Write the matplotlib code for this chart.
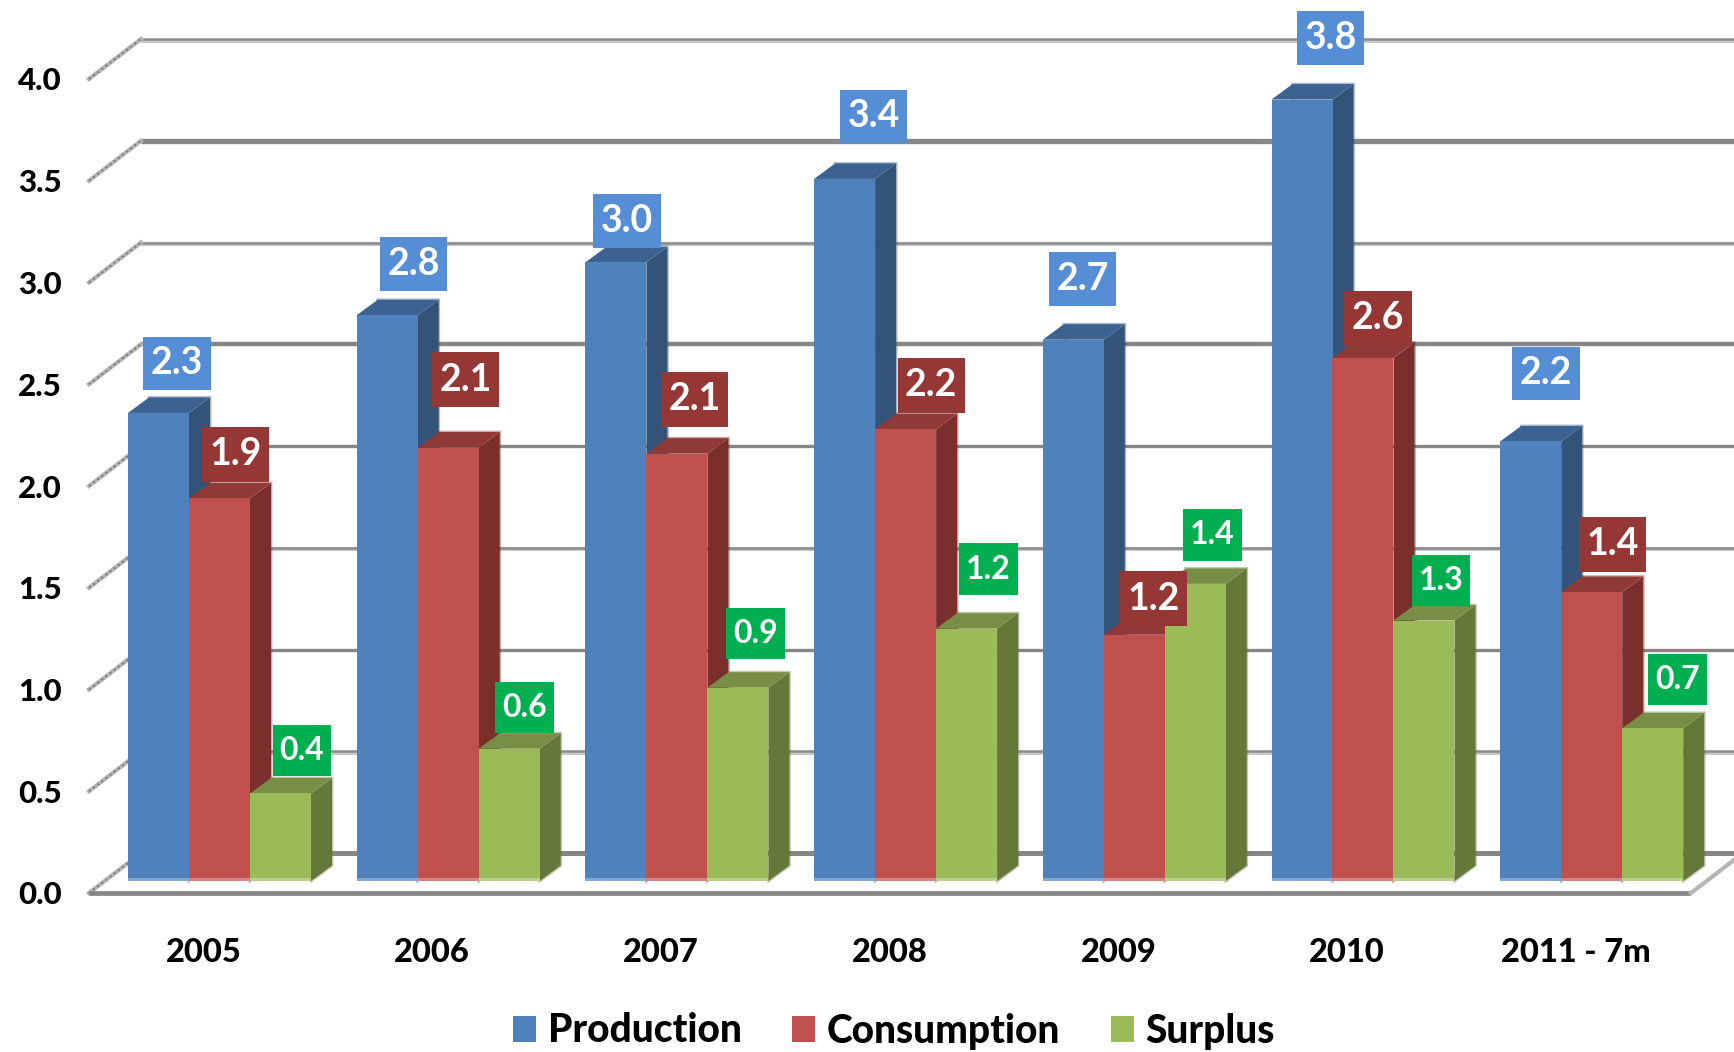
import numpy as np
import matplotlib
matplotlib.use('Agg')
import matplotlib.pyplot as plt
from matplotlib.patches import Polygon
from matplotlib.path import Path

categories = ['2005', '2006', '2007', '2008', '2009', '2010', '2011 - 7m']
production = [2.30, 2.78, 3.04, 3.45, 2.66, 3.84, 2.16]
consumption = [1.88, 2.13, 2.10, 2.22, 1.21, 2.57, 1.42]
surplus = [0.43, 0.65, 0.95, 1.24, 1.46, 1.28, 0.75]

production_labels = ['2.3', '2.8', '3.0', '3.4', '2.7', '3.8', '2.2']
consumption_labels = ['1.9', '2.1', '2.1', '2.2', '1.2', '2.6', '1.4']
surplus_labels = ['0.4', '0.6', '0.9', '1.2', '1.4', '1.3', '0.7']

y_ticks = [0.0, 0.5, 1.0, 1.5, 2.0, 2.5, 3.0, 3.5, 4.0]
y_tick_labels = ['0.0', '0.5', '1.0', '1.5', '2.0', '2.5', '3.0', '3.5', '4.0']

# label box offsets from the top of each bar, in pixels (placed by hand in the original)
production_offsets = [(18.5, 49.5), (26.4, 51.5), (11, 41.5), (29, 62.5), (9.4, 60.5), (28.5, 61.5), (15.3, 68)]
consumption_offsets = [(16, 44), (17.4, 68), (17.7, 54.5), (25.7, 44), (19.3, 36), (15, 40), (21, 48)]
surplus_offsets = [(21.5, 43), (15, 41), (17.5, 54), (22, 59.5), (17, 49), (17, 40), (25, 49)]

plt.rcParams['font.family'] = ['Lato', 'DejaVu Sans']
plt.rcParams['font.weight'] = 'bold'

W, H = 1734, 1052
fig = plt.figure(figsize=(W/100, H/100), dpi=100)
ax = fig.add_axes([62/W, 1 - 893/H, (W - 62)/W, 893/H])

# one x unit is one category, one y unit is one value unit
px_x = 228.7
px_y = 203.5
ax.set_xlim((62 - 219.5)/px_x, (W - 219.5)/px_x)
ax.set_ylim(-12/px_y, 881/px_y)

bar_w = 61/px_x
depth_x = 21/px_x
depth_y = 15.5/px_y
front_y = -12/px_y     # floor front edge relative to the bar base
back_y = 28/px_y       # back wall relative to the bar base
wall_x0 = (89 - 219.5)/px_x
wall_x1 = (141 - 219.5)/px_x
floor_end = (1691 - 219.5)/px_x

x = np.arange(len(categories))

# walls
line_widths = {0.0: 3.6, 1.0: 2.4, 2.0: 2.4, 2.5: 3.2, 3.5: 3.8}
for v in y_ticks:
    yb = v + back_y
    yf = v + front_y
    if v in line_widths:
        ax.plot([wall_x1, floor_end + wall_x1 - wall_x0], [yb, yb], color='#868686', lw=line_widths[v], zorder=1, solid_capstyle='butt')
    else:
        ax.plot([wall_x1, floor_end + wall_x1 - wall_x0], [yb - 1.5/px_y, yb - 1.5/px_y], color='#c8c8c8', lw=3, zorder=1, solid_capstyle='butt')
        ax.plot([wall_x1, floor_end + wall_x1 - wall_x0], [yb, yb], color='#8c8c8c', lw=1.8, zorder=1, solid_capstyle='butt')
    ax.plot([wall_x0, wall_x1], [yf, yb], color='#b4b4b4', lw=3, zorder=1, clip_on=False)
    ax.plot([wall_x0, wall_x1], [yf, yb], color='#7f7f7f', lw=1.5, ls=(0, (1, 1.5)), zorder=1, clip_on=False)

ax.plot([wall_x0, floor_end], [front_y, front_y], color='#868686', lw=3.4, zorder=2, clip_on=False, solid_capstyle='butt')
ax.plot([floor_end, floor_end + wall_x1 - wall_x0], [front_y, back_y], color='#b4b4b4', lw=3, zorder=2, clip_on=False)


def draw_series(values, pos, front, side, top, name, z):
    left = x + pos*bar_w
    bars = ax.bar(left, values, bar_w, color=front, label=name, zorder=z + 0.2)
    ax.bar(left, [3/px_y]*len(values), bar_w, color='white', alpha=0.3, zorder=z + 0.3)
    for x0, v in zip(left, values):
        x1 = x0 + bar_w/2
        xs = x0 - bar_w/2
        # light rim behind the 3d faces
        ax.add_patch(Polygon([(x1, 0), (x1 + depth_x, depth_y), (x1 + depth_x, v + depth_y), (xs + depth_x, v + depth_y)],
                             closed=True, fc='none', ec=side, alpha=0.4, lw=2, zorder=z - 0.1))
        ax.add_patch(Polygon([(x1, 0), (x1 + depth_x, depth_y), (x1 + depth_x, v + depth_y), (x1, v)],
                             closed=True, fc=side, ec='none', zorder=z))
        ax.add_patch(Polygon([(xs, v), (xs + depth_x, v + depth_y), (x1 + depth_x, v + depth_y), (x1, v)],
                             closed=True, fc=top, ec='none', zorder=z + 0.1))
    return bars


draw_series(production, -1, '#4F81BD', '#335379', '#3C6291', 'Production', 3)
draw_series(consumption, 0, '#C0504D', '#7B2F2D', '#8F3A37', 'Consumption', 4)
draw_series(surplus, 1, '#9BBB59', '#66773A', '#778E44', 'Surplus', 5)


def make_box(pad_x, pad_y):
    # the boxes in the original are taller than a square pad gives
    def box(x0, y0, width, height, mutation_size):
        px = pad_x*mutation_size
        py = pad_y*mutation_size
        return Path([(x0 - px, y0 - py), (x0 + width + px, y0 - py), (x0 + width + px, y0 + height + py),
                     (x0 - px, y0 + height + py), (x0 - px, y0 - py)], closed=True)
    return box


def draw_labels(values, labels, offsets, pos, color, size, pad_x, pad_y):
    for xc, v, txt, off in zip(x + pos*bar_w, values, labels, offsets):
        ax.annotate(txt, xy=(xc, v), xytext=off, textcoords='offset pixels', ha='center', va='center',
                    color='white', fontsize=size, fontweight='bold', zorder=10,
                    bbox=dict(boxstyle=make_box(pad_x, pad_y), fc=color, ec='none'))


draw_labels(production, production_labels, production_offsets, -1, '#558ED5', 27, 0.2, 0.26)
draw_labels(consumption, consumption_labels, consumption_offsets, 0, '#953735', 27, 0.2, 0.28)
draw_labels(surplus, surplus_labels, surplus_offsets, 1, '#00B050', 23, 0.22, 0.35)

ax.set_yticks(np.array(y_ticks) + front_y, labels=y_tick_labels)
ax.set_xticks(x - 16/px_x, labels=categories)
ax.tick_params(axis='y', length=0, pad=0, labelsize=22.5)
ax.tick_params(axis='x', length=0, pad=32.5, labelsize=23.5)
for lab in ax.get_xticklabels() + ax.get_yticklabels():
    lab.set_fontweight(900)
for s in ax.spines.values():
    s.set_visible(False)

handles, names = ax.get_legend_handles_labels()
fig.legend(handles, names, ncol=3, loc='center', bbox_to_anchor=(894/W, 1 - 1031/H), frameon=False,
           handlelength=0.6, handleheight=0.68, handletextpad=0.3, columnspacing=1.29,
           borderpad=0, borderaxespad=0, prop={'size': 28, 'weight': 900})

fig.savefig('out.png', dpi=100)
